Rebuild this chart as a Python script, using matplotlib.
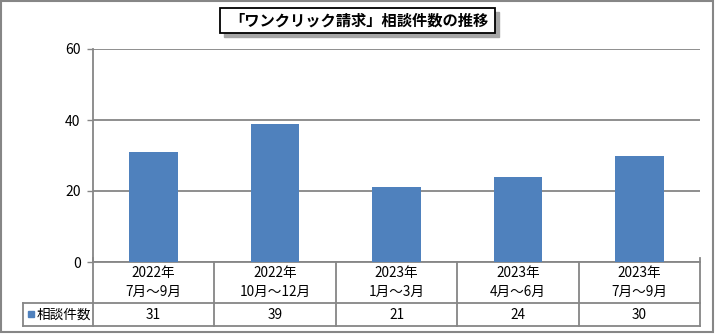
import matplotlib
matplotlib.use('Agg')
import matplotlib.pyplot as plt
from matplotlib.patches import Rectangle

plt.rcParams['font.family'] = ['Noto Sans CJK JP', 'DejaVu Sans']

# Data
period_years = ['2022年', '2022年', '2023年', '2023年', '2023年']
period_months = ['7月～9月', '10月～12月', '1月～3月', '4月～6月', '7月～9月']
counts = [31, 39, 21, 24, 30]
series_name = '相談件数'
title_text = '「ワンクリック請求」相談件数の推移'
y_ticks = [0, 20, 40, 60]

W, H = 715, 334
bar_color = '#4F81BD'
line_color = '#868686'

fig = plt.figure(figsize=(W / 100, H / 100), dpi=100)

# Overlay in pixel coordinates for frame, title box and data table
ov = fig.add_axes([0, 0, 1, 1])
ov.set_xlim(0, W)
ov.set_ylim(H, 0)
ov.axis('off')

# Outer frame
ov.add_patch(Rectangle((1, 1), W - 3, H - 3, fill=False, ec=line_color, lw=1.5))

# Plot area
px_left, px_right, px_top, px_bottom = 93, 700, 49, 262
ax = fig.add_axes([px_left / W, 1 - px_bottom / H,
                   (px_right - px_left) / W, (px_bottom - px_top) / H])
x = list(range(len(counts)))
ax.bar(x, counts, width=0.4, color=bar_color, zorder=3)
ax.set_xlim(-0.5, len(counts) - 0.5)
ax.set_ylim(0, 60)
ax.set_yticks(y_ticks)
ax.set_xticks([])
ax.tick_params(axis='y', length=4, width=1, color=line_color, labelsize=10, pad=5)
ax.yaxis.grid(True, color=line_color, lw=1.3, zorder=1)
for side in ['top', 'right', 'bottom']:
    ax.spines[side].set_visible(False)
ax.spines['left'].set_color(line_color)
ax.spines['left'].set_linewidth(1.3)
ax.patch.set_alpha(0)

# Data table under the plot
n = len(counts)
col_w = (px_right - px_left) / n
row1_bot, row2_bot, tab_left = 303, 326, 23
lkw = dict(color=line_color, lw=1.3)
ov.plot([px_left, px_right], [px_bottom, px_bottom], **lkw)
ov.plot([tab_left, px_right], [row1_bot, row1_bot], **lkw)
ov.plot([tab_left, px_right], [row2_bot, row2_bot], **lkw)
ov.plot([tab_left, tab_left], [row1_bot, row2_bot], **lkw)
for i in range(n + 1):
    xx = px_left + i * col_w
    ov.plot([xx, xx], [px_bottom - 4 if i in (0, n) else px_bottom, row2_bot], **lkw)

fs = 9.8
for i in range(n):
    cx = px_left + (i + 0.5) * col_w
    ov.text(cx, 273.5, period_years[i], ha='center', va='center', fontsize=fs)
    ov.text(cx, 292, period_months[i], ha='center', va='center', fontsize=fs)
    ov.text(cx, 315, str(counts[i]), ha='center', va='center', fontsize=fs)

ov.add_patch(Rectangle((28, 311), 6, 6, color=bar_color))
ov.text(37, 314.5, series_name, ha='left', va='center', fontsize=fs)

# Title box with shadow
ov.add_patch(Rectangle((224, 12), 275, 25, color='#A6A6A6', zorder=4))
ov.add_patch(Rectangle((220, 8), 275, 25, fc='white', ec='black', lw=1.3, zorder=5))
ov.text(359, 21, title_text, ha='center', va='center', fontsize=11,
        fontweight='bold', zorder=6)

fig.savefig('out.png', dpi=100)
